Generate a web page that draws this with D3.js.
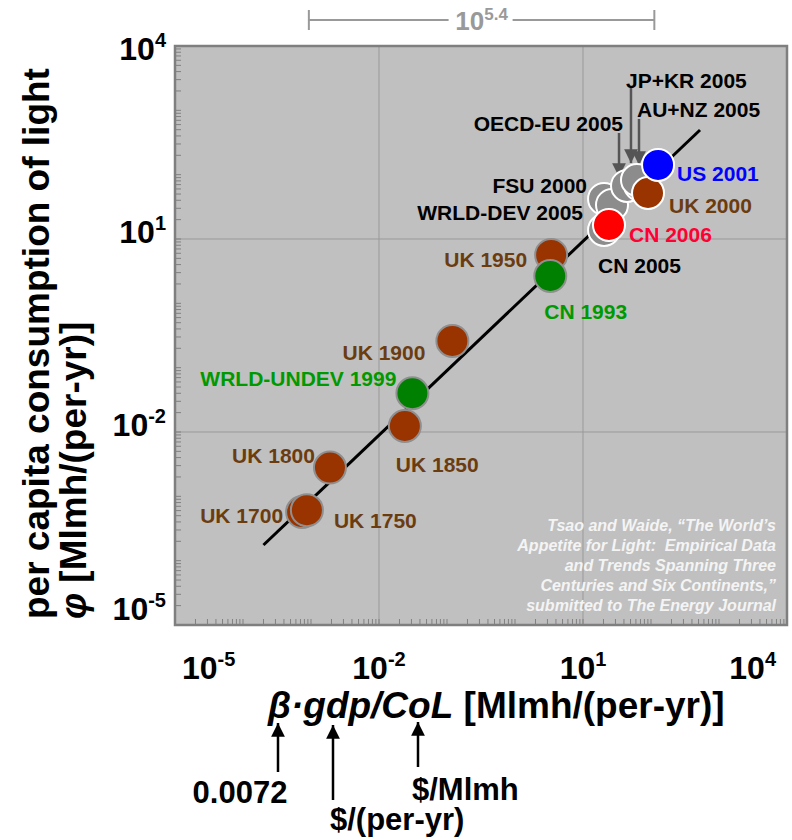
<!DOCTYPE html>
<html lang="en">
  <head>
    <meta charset="utf-8">
    <title>Per capita consumption of light</title>
    <script src="https://d3js.org/d3.v7.min.js"></script>
    <style>
      body { margin: 0; background: #fff; }
      text { font-family: "Liberation Sans", Arial, sans-serif; font-weight: bold; }
    </style>
  </head>
  <body>
    <script type="text/javascript">
      // points, drawn in this order (later ones on top)
      const pointLabels = ["UK 1700", "UK 1750", "UK 1800", "UK 1850", "WRLD-UNDEV 1999", "UK 1900",
        "UK 1950", "CN 1993", "FSU 2000", "WRLD-DEV 2005", "CN 2005", "CN 2006",
        "OECD-EU 2005", "AU+NZ 2005", "JP+KR 2005", "UK 2000", "US 2001"];
      const gdpCol = [7.4e-4, 8.7e-4, 1.9e-3, 0.024, 0.031, 0.12,
        3.4, 3.3, 20.4, 26.7, 20.4, 24.1,
        44.4, 68.9, 62.2, 90.4, 127];
      const phi = [5.7e-4, 6.1e-4, 2.8e-3, 0.0124, 0.040, 0.26,
        5.65, 2.66, 41.9, 33.8, 13.8, 16.5,
        66.7, 69.2, 82.6, 51.9, 141.5];
      const pointKinds = ["uk", "uk", "uk", "uk", "green", "uk",
        "uk", "green", "gray", "gray", "gray", "red",
        "gray", "gray", "gray", "uk", "blue"];

      // fitted line end points
      const fitX = [2.0e-4, 526];
      const fitY = [1.75e-4, 495];

      const decadeExps = [-5, -2, 1, 4];
      const bracketX = [9.3e-4, 112];
      const bracketText = ["10", "5.4"];

      const citation = [
        "Tsao and Waide, \u201cThe World\u2019s",
        "Appetite for Light:  Empirical Data",
        "and Trends Spanning Three",
        "Centuries and Six Continents,\u201d",
        "submitted to The Energy Journal"
      ];

      const fillColor = { uk: "#993300", green: "#008000", gray: "#8c8c8c", red: "#ff0000", blue: "#0000ff" };
      const textColor = { uk: "#6b3c10", green: "#009900", gray: "#000000", red: "#ff0033", blue: "#0000ff" };

      // label placement relative to the circle centre
      const labelLayout = {
        "UK 1700": [-19, 11, "end"],
        "UK 1750": [27, 18, "start"],
        "UK 1800": [-15, -5, "end"],
        "UK 1850": [-9, 46, "start"],
        "WRLD-UNDEV 1999": [-16, -7, "end"],
        "UK 1900": [-27, 19, "end"],
        "UK 1950": [-24, 12, "end"],
        "CN 1993": [-6, 43, "start"],
        "FSU 2000": [-17, -6, "end"],
        "WRLD-DEV 2005": [-29, 15, "end"],
        "CN 2005": [-6, 43, "start"],
        "CN 2006": [20, 17, "start"],
        "OECD-EU 2005": [-4, -55, "end"],
        "AU+NZ 2005": [-3, -68, "start"],
        "JP+KR 2005": [-11, -92, "start"],
        "UK 2000": [21, 20, "start"],
        "US 2001": [19, 16, "start"]
      };
      // pointer arrows: [dx, top dy, tip dy]
      const arrowLayout = {
        "OECD-EU 2005": [-8, -53, -9],
        "AU+NZ 2005": [-1, -66, -20],
        "JP+KR 2005": [-6, -92, -17]
      };

      const svgWidth = 792;
      const svgHeight = 840;
      const plotL = 175, plotR = 787, plotT = 46, plotB = 625;
      const radius = 16;

      const points = pointLabels.map((d, i) => ({
        label: d, x: gdpCol[i], y: phi[i], kind: pointKinds[i], year: +d.slice(-4)
      }));

      var svg = d3.select("body")
        .append("svg")
        .attr("width", svgWidth)
        .attr("height", svgHeight);

      var xScale = d3.scaleLog().domain([1e-5, 1e4]).range([plotL, plotR]);
      var yScale = d3.scaleLog().domain([1e-5, 1e4]).range([plotB, plotT]);

      var defs = svg.append("defs");
      [["headGray", "#555"], ["headBlack", "#000"]].forEach(m => {
        defs.append("marker")
          .attr("id", m[0])
          .attr("viewBox", "0 0 10 10")
          .attr("refX", 10).attr("refY", 5)
          .attr("markerWidth", 5.5).attr("markerHeight", 5.5)
          .attr("markerUnits", "strokeWidth")
          .attr("orient", "auto")
          .append("path")
          .attr("d", "M0,0 L10,5 L0,10 Z")
          .attr("fill", m[1]);
      });

      // plot background
      svg.append("rect")
        .attr("x", plotL).attr("y", plotT)
        .attr("width", plotR - plotL).attr("height", plotB - plotT)
        .attr("fill", "#c0c0c0");

      // grid
      var inner = decadeExps.slice(1, -1).map(e => Math.pow(10, e));
      svg.append("g").selectAll("line").data(inner).enter().append("line")
        .attr("x1", d => xScale(d)).attr("x2", d => xScale(d))
        .attr("y1", plotT).attr("y2", plotB)
        .attr("stroke", "#999").attr("stroke-width", 1);
      svg.append("g").selectAll("line").data(inner).enter().append("line")
        .attr("y1", d => yScale(d)).attr("y2", d => yScale(d))
        .attr("x1", plotL).attr("x2", plotR)
        .attr("stroke", "#999").attr("stroke-width", 1);

      // minor ticks inside the frame
      svg.append("g").selectAll("line").data(xScale.ticks()).enter().append("line")
        .attr("x1", d => xScale(d)).attr("x2", d => xScale(d))
        .attr("y1", plotB).attr("y2", plotB - 6)
        .attr("stroke", "#808080").attr("stroke-width", 1);
      svg.append("g").selectAll("line").data(yScale.ticks()).enter().append("line")
        .attr("y1", d => yScale(d)).attr("y2", d => yScale(d))
        .attr("x1", plotL).attr("x2", plotL + 6)
        .attr("stroke", "#808080").attr("stroke-width", 1);

      svg.append("rect")
        .attr("x", plotL).attr("y", plotT)
        .attr("width", plotR - plotL).attr("height", plotB - plotT)
        .attr("fill", "none")
        .attr("stroke", "#7f7f7f").attr("stroke-width", 2.5);

      // tick labels
      function powerLabel(sel, exp, size, supSize, rise) {
        sel.append("tspan").attr("font-size", size + "px").text("10");
        sel.append("tspan").attr("font-size", supSize + "px").attr("dy", -rise).text(exp);
      }
      decadeExps.forEach((e, i) => {
        var last = decadeExps.length - 1;
        var t = svg.append("text")
          .attr("x", i == 0 ? xScale(Math.pow(10, e)) + 7 : i == last ? xScale(Math.pow(10, e)) - 11 : xScale(Math.pow(10, e)))
          .attr("y", 679)
          .attr("text-anchor", i == 0 ? "start" : i == last ? "end" : "middle");
        powerLabel(t, e, 32, 20, 13);
      });
      decadeExps.forEach(e => {
        var t = svg.append("text")
          .attr("x", 166)
          .attr("y", Math.min(Math.max(yScale(Math.pow(10, e)) + 4, 60), 620))
          .attr("text-anchor", "end");
        powerLabel(t, e, 32, 20, 13);
      });

      // fit line
      svg.append("line")
        .attr("x1", xScale(fitX[0])).attr("y1", yScale(fitY[0]))
        .attr("x2", xScale(fitX[1])).attr("y2", yScale(fitY[1]))
        .attr("stroke", "black").attr("stroke-width", 3);

      // pointer arrows
      svg.append("g").selectAll("line")
        .data(points.filter(d => arrowLayout[d.label]))
        .enter().append("line")
        .attr("x1", d => xScale(d.x) + arrowLayout[d.label][0])
        .attr("x2", d => xScale(d.x) + arrowLayout[d.label][0])
        .attr("y1", d => yScale(d.y) + arrowLayout[d.label][1])
        .attr("y2", d => yScale(d.y) + arrowLayout[d.label][2])
        .attr("stroke", "#555").attr("stroke-width", 2.5)
        .attr("marker-end", "url(#headGray)");

      // circles
      svg.append("g").selectAll("circle")
        .data(points).enter().append("circle")
        .attr("cx", d => xScale(d.x))
        .attr("cy", d => yScale(d.y))
        .attr("r", radius)
        .attr("fill", d => fillColor[d.kind])
        .attr("stroke", d => d.year >= 2000 ? "#ffffff" : "#8f8f8f")
        .attr("stroke-width", 2);

      // point labels
      svg.append("g").selectAll("text")
        .data(points).enter().append("text")
        .attr("x", d => xScale(d.x) + labelLayout[d.label][0])
        .attr("y", d => yScale(d.y) + labelLayout[d.label][1])
        .attr("text-anchor", d => labelLayout[d.label][2])
        .attr("font-size", "21px")
        .attr("fill", d => textColor[d.kind])
        .text(d => d.label);

      // citation
      svg.append("g").selectAll("text")
        .data(citation).enter().append("text")
        .attr("x", 776)
        .attr("y", (d, i) => 531 + i * 20)
        .attr("text-anchor", "end")
        .attr("font-size", "16px")
        .attr("font-style", "italic")
        .attr("fill", "#f4f4f4")
        .style("white-space", "pre")
        .text(d => d);

      // top bracket
      var bx0 = xScale(bracketX[0]), bx1 = xScale(bracketX[1]), by = 20;
      var bg = svg.append("g").attr("stroke", "#999").attr("stroke-width", 2);
      bg.append("line").attr("x1", bx0).attr("x2", bx0).attr("y1", 10).attr("y2", 30);
      bg.append("line").attr("x1", bx1).attr("x2", bx1).attr("y1", 10).attr("y2", 30);
      bg.append("line").attr("x1", bx0).attr("x2", (bx0 + bx1) / 2 - 33).attr("y1", by).attr("y2", by);
      bg.append("line").attr("x1", (bx0 + bx1) / 2 + 31).attr("x2", bx1).attr("y1", by).attr("y2", by);
      var bt = svg.append("text")
        .attr("x", (bx0 + bx1) / 2).attr("y", 30)
        .attr("text-anchor", "middle").attr("fill", "#999");
      powerLabel(bt, bracketText[1], 26, 17, 10);

      // axis titles
      var xt = svg.append("text").attr("x", 268).attr("y", 718).attr("font-size", "37px");
      xt.append("tspan").attr("font-style", "italic").text("\u03b2\u00b7gdp/CoL");
      xt.append("tspan").text(" [Mlmh/(per-yr)]");

      svg.append("text")
        .attr("transform", "translate(49,619) rotate(-90)")
        .attr("font-size", "37px")
        .text("per capita consumption of light");
      var yt = svg.append("text")
        .attr("transform", "translate(86,619) rotate(-90)")
        .attr("font-size", "37px");
      yt.append("tspan").attr("font-style", "italic").text("\u03c6");
      yt.append("tspan").text(" [Mlmh/(per-yr)]");

      // arrows under the x title
      const notes = [
        { x: 278, tip: 723, end: 772, text: "0.0072", tx: 240, ty: 803, anchor: "middle" },
        { x: 333, tip: 725, end: 800, text: "$/(per-yr)", tx: 330, ty: 830, anchor: "start" },
        { x: 418, tip: 722, end: 767, text: "$/Mlmh", tx: 412, ty: 800, anchor: "start" }
      ];
      notes.forEach(n => {
        svg.append("line")
          .attr("x1", n.x).attr("x2", n.x).attr("y1", n.end).attr("y2", n.tip)
          .attr("stroke", "black").attr("stroke-width", 2.5)
          .attr("marker-end", "url(#headBlack)");
        svg.append("text")
          .attr("x", n.tx).attr("y", n.ty)
          .attr("text-anchor", n.anchor)
          .attr("font-size", "31px")
          .text(n.text);
      });
    </script>
  </body>
</html>
